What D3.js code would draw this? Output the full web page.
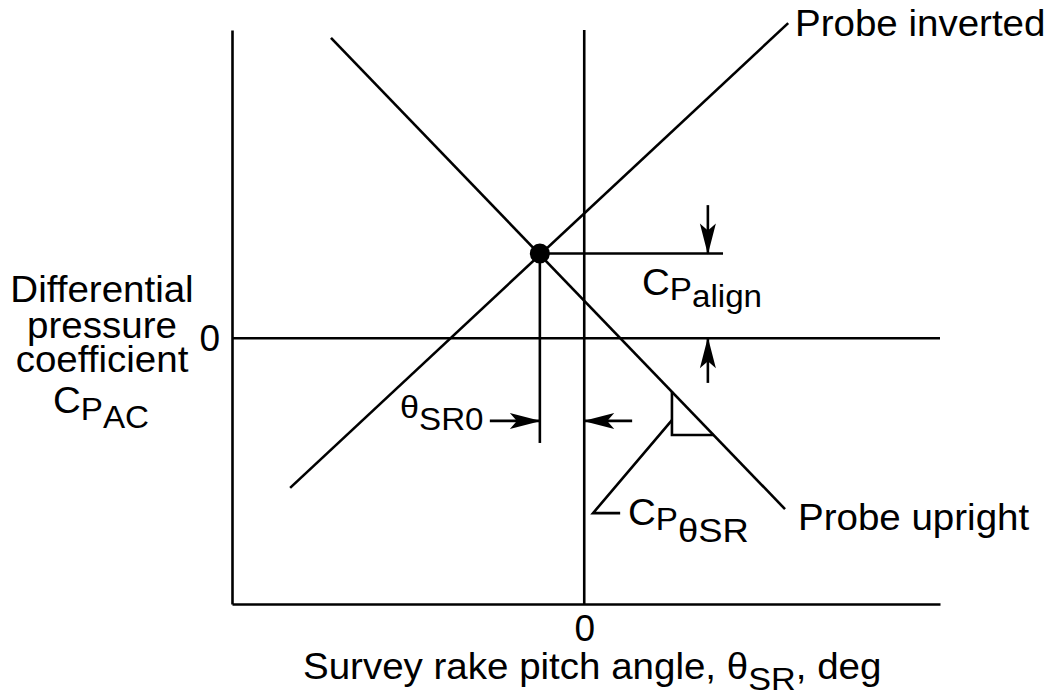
<!DOCTYPE html>
<html>
<head>
<meta charset="utf-8">
<script src="https://cdn.jsdelivr.net/npm/d3@7"></script>
<style>
  body { margin: 0; background: #fff; }
  svg text { font-family: "Liberation Sans", Arial, Helvetica, sans-serif; fill: #000; }
  .axis path, .axis line { stroke: #000; stroke-width: 2.6; }
  .axis text { font-size: 37px; font-family: "Liberation Sans", Arial, sans-serif; }
</style>
</head>
<body>
<script>
// schematic values, theta in deg, Cp in arbitrary units
var thetaDomain = [-10, 10.1];
var cpDomain = [-10, 11.6];
var xTicks = [0];
var yTicks = [0];

var uprightTheta = [-7.19, 5.70];
var uprightCp = [11.30, -6.43];
var invertedTheta = [-8.35, 5.79];
var invertedCp = [-5.63, 11.86];

// crossing point of the two probe lines
var thetaSR0 = -1.26;
var cpAlign = 3.19;

// annotation helpers
var alignLeaderEnd = 3.94;      // theta where the Cp_align leader stops
var alignArrowTheta = 3.51;
var alignArrowTails = [5.01, -1.68];
var dropLineEnd = -3.94;        // Cp where the theta_SR0 drop line stops
var thetaArrowCp = -3.11;
var thetaArrowTails = [-2.68, 1.36];
var slopeTheta = [2.49, 3.67];  // small slope triangle
var slopeCp = [-2.01, -3.64];
var slopeLeaderTheta = [2.49, 0.25, 1.02];
var slopeLeaderCp = [-3.08, -6.58, -6.58];

var width = 1055, height = 696;
var margin = {top: 30, right: 115, bottom: 92, left: 232};
var stretch = 1.07; // lettering in the scan is a bit wider than Arial

var svg = d3.select("body").append("svg")
    .attr("width", width)
    .attr("height", height);

svg.append("rect").attr("width", width).attr("height", height).attr("fill", "#fff");

var x = d3.scaleLinear().domain(thetaDomain).range([margin.left, width - margin.right]);
var y = d3.scaleLinear().domain(cpDomain).range([height - margin.bottom, margin.top]);

var defs = svg.append("defs");
defs.append("marker")
    .attr("id", "head")
    .attr("viewBox", "-32 -10 34 20")
    .attr("refX", 0).attr("refY", 0)
    .attr("markerWidth", 34).attr("markerHeight", 20)
    .attr("markerUnits", "userSpaceOnUse")
    .attr("orient", "auto")
  .append("path")
    .attr("d", "M1,0 L-30,-8 L-23,0 L-30,8 Z")
    .attr("fill", "#000");

// axes
svg.append("g")
    .attr("class", "axis")
    .attr("transform", "translate(0," + y.range()[0] + ")")
    .call(d3.axisBottom(x).tickValues(xTicks).tickSize(0).tickSizeOuter(0).tickPadding(11).tickFormat(d3.format("d")));

svg.append("g")
    .attr("class", "axis")
    .attr("transform", "translate(" + x.range()[0] + ",0)")
    .call(d3.axisLeft(y).tickValues(yTicks).tickSize(0).tickSizeOuter(0).tickPadding(12).tickFormat(d3.format("d")));

svg.selectAll(".axis text").attr("fill", "#000");

var g = svg.append("g").attr("stroke", "#000").attr("stroke-width", 2.6).attr("fill", "none");

// zero lines
g.append("line")
    .attr("x1", x(0)).attr("x2", x(0))
    .attr("y1", y.range()[1]).attr("y2", y.range()[0]);
g.append("line")
    .attr("x1", x.range()[0]).attr("x2", x.range()[1])
    .attr("y1", y(0)).attr("y2", y(0));

var line = d3.line().x(function(d) { return x(d[0]); }).y(function(d) { return y(d[1]); });

g.append("path").attr("d", line(d3.zip(uprightTheta, uprightCp)));
g.append("path").attr("d", line(d3.zip(invertedTheta, invertedCp)));

// leaders from crossing point
g.append("path").attr("d", line([[thetaSR0, cpAlign], [alignLeaderEnd, cpAlign]]));
g.append("path").attr("d", line([[thetaSR0, cpAlign], [thetaSR0, dropLineEnd]]));

// arrows
g.append("path").attr("marker-end", "url(#head)")
    .attr("d", line([[alignArrowTheta, alignArrowTails[0]], [alignArrowTheta, cpAlign]]));
g.append("path").attr("marker-end", "url(#head)")
    .attr("d", line([[alignArrowTheta, alignArrowTails[1]], [alignArrowTheta, 0]]));
g.append("path").attr("marker-end", "url(#head)")
    .attr("d", line([[thetaArrowTails[0], thetaArrowCp], [thetaSR0, thetaArrowCp]]));
g.append("path").attr("marker-end", "url(#head)")
    .attr("d", line([[thetaArrowTails[1], thetaArrowCp], [0, thetaArrowCp]]));

// slope triangle and its leader
g.append("path").attr("d", line([[slopeTheta[0], slopeCp[0]], [slopeTheta[0], slopeCp[1]], [slopeTheta[1], slopeCp[1]]]));
g.append("path").attr("d", line(d3.zip(slopeLeaderTheta, slopeLeaderCp)));

svg.append("circle")
    .attr("cx", x(thetaSR0)).attr("cy", y(cpAlign))
    .attr("r", 10).attr("fill", "#000");

// labels
function label(px, py, parts, anchor) {
  var t = svg.append("text")
      .attr("transform", "translate(" + px + "," + py + ") scale(" + stretch + ",1)")
      .attr("text-anchor", anchor || "start");
  parts.forEach(function(p) {
    t.append("tspan")
      .attr("font-size", p[1] + "px")
      .attr("dy", p[2] || 0)
      .text(p[0]);
  });
  return t;
}

label(795, 36, [["Probe inverted", 36]]);
label(798, 530, [["Probe upright", 36]]);

label(102, 302, [["Differential", 36]], "middle");
label(102, 338, [["pressure", 36]], "middle");
label(102, 372, [["coefficient", 36]], "middle");
label(101, 413, [["C", 36], ["P", 31, 7], ["AC", 31, 8]], "middle");

label(642, 295, [["C", 36], ["P", 31, 5], ["align", 31, 7]]);
label(400, 418, [["θ", 32], ["SR0", 31, 12]]);
label(628, 525, [["C", 36], ["P", 31, 5], ["θSR", 34, 12]]);

label(303, 679, [["Survey rake pitch angle, θ", 36], ["SR", 32, 11], [", deg", 36, -11]]);
</script>
</body>
</html>
